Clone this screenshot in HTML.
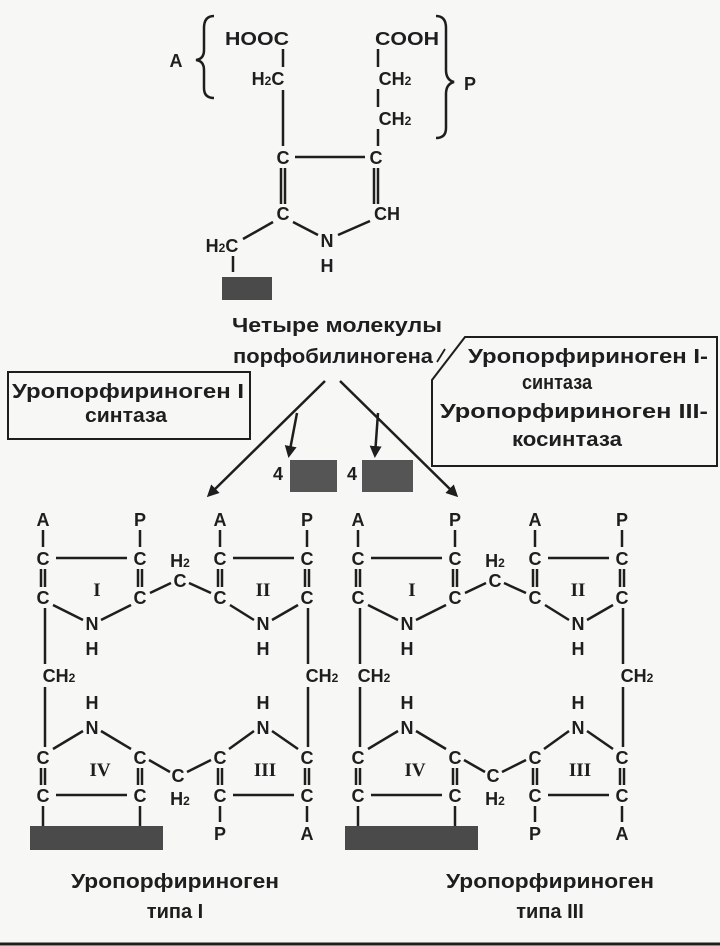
<!DOCTYPE html>
<html><head><meta charset="utf-8"><style>
html,body{margin:0;padding:0;background:#f7f7f5}
svg{display:block}
text{font-family:"Liberation Sans",sans-serif;font-weight:bold;fill:#1e1e1e}
.a{font-size:18px;text-anchor:middle}
.s{font-size:12px}
.r{font-family:"Liberation Serif",serif;font-size:19px;text-anchor:middle}
.t{font-size:20px}
line,path,polyline{stroke:#1e1e1e;stroke-width:2.5;fill:none}
</style></head><body>
<svg width="720" height="946" viewBox="0 0 720 946" xmlns="http://www.w3.org/2000/svg">
<defs>
<marker id="ah" markerWidth="12" markerHeight="12" refX="9" refY="6" orient="auto" markerUnits="userSpaceOnUse">
<path d="M0,0 L12,6 L0,12 z" style="fill:#1e1e1e;stroke:none"/>
</marker>
<g id="ring">
<text class="a" x="43" y="526">A</text><text class="a" x="140" y="526">P</text>
<text class="a" x="220" y="526">A</text><text class="a" x="307" y="526">P</text>
<text class="a" x="43" y="565">C</text><text class="a" x="140" y="565">C</text>
<text class="a" x="220" y="565">C</text><text class="a" x="307" y="565">C</text>
<text class="a" x="180" y="567">H<tspan class="s">2</tspan></text>
<text class="a" x="43" y="604">C</text><text class="a" x="140" y="604">C</text>
<text class="a" x="180" y="587">C</text><text class="a" x="220" y="604">C</text>
<text class="a" x="307" y="604">C</text>
<text class="r" x="97" y="596">I</text><text class="r" x="263" y="596">II</text>
<text class="a" x="92" y="630">N</text><text class="a" x="92" y="655">H</text>
<text class="a" x="263" y="630">N</text><text class="a" x="263" y="655">H</text>
<text class="a" x="59" y="682">CH<tspan class="s">2</tspan></text>
<text class="a" x="322" y="682">CH<tspan class="s">2</tspan></text>
<text class="a" x="92" y="709">H</text><text class="a" x="92" y="734">N</text>
<text class="a" x="263" y="709">H</text><text class="a" x="263" y="734">N</text>
<text class="a" x="43" y="764">C</text><text class="a" x="140" y="764">C</text>
<text class="a" x="178" y="782">C</text><text class="a" x="220" y="764">C</text>
<text class="a" x="307" y="764">C</text>
<text class="r" x="100" y="776">IV</text><text class="r" x="265" y="776">III</text>
<text class="a" x="43" y="802">C</text><text class="a" x="140" y="802">C</text>
<text class="a" x="220" y="802">C</text><text class="a" x="307" y="802">C</text>
<text class="a" x="180" y="805">H<tspan class="s">2</tspan></text>
<text class="a" x="220" y="840">P</text><text class="a" x="307" y="840">A</text>
<rect x="30" y="826" width="133" height="24" fill="#4a4a4a"/>
<line x1="43" y1="530" x2="43" y2="547"/><line x1="140" y1="530" x2="140" y2="547"/>
<line x1="220" y1="530" x2="220" y2="547"/><line x1="307" y1="530" x2="307" y2="547"/>
<line x1="56" y1="558" x2="127" y2="558"/><line x1="233" y1="558" x2="294" y2="558"/>
<line x1="41" y1="569" x2="41" y2="587"/><line x1="45" y1="569" x2="45" y2="587"/>
<line x1="138" y1="569" x2="138" y2="587"/><line x1="142" y1="569" x2="142" y2="587"/>
<line x1="218" y1="569" x2="218" y2="587"/><line x1="222" y1="569" x2="222" y2="587"/>
<line x1="305" y1="569" x2="305" y2="587"/><line x1="309" y1="569" x2="309" y2="587"/>
<line x1="53" y1="605" x2="83" y2="620"/><line x1="101" y1="620" x2="131" y2="605"/>
<line x1="150" y1="593" x2="171" y2="583"/><line x1="189" y1="583" x2="211" y2="593"/>
<line x1="230" y1="605" x2="254" y2="620"/><line x1="272" y1="620" x2="298" y2="605"/>
<line x1="45" y1="608" x2="45" y2="664"/><line x1="45" y1="687" x2="45" y2="747"/>
<line x1="308" y1="608" x2="308" y2="664"/><line x1="308" y1="687" x2="308" y2="747"/>
<line x1="83" y1="731" x2="53" y2="749"/><line x1="101" y1="731" x2="131" y2="749"/>
<line x1="149" y1="760" x2="170" y2="772"/><line x1="187" y1="772" x2="211" y2="760"/>
<line x1="229" y1="749" x2="254" y2="731"/><line x1="272" y1="731" x2="298" y2="749"/>
<line x1="41" y1="768" x2="41" y2="785"/><line x1="45" y1="768" x2="45" y2="785"/>
<line x1="138" y1="768" x2="138" y2="785"/><line x1="142" y1="768" x2="142" y2="785"/>
<line x1="218" y1="768" x2="218" y2="785"/><line x1="222" y1="768" x2="222" y2="785"/>
<line x1="305" y1="768" x2="305" y2="785"/><line x1="309" y1="768" x2="309" y2="785"/>
<line x1="56" y1="795" x2="127" y2="795"/><line x1="233" y1="795" x2="294" y2="795"/>
<line x1="43" y1="806" x2="43" y2="826"/><line x1="140" y1="806" x2="140" y2="826"/>
<line x1="220" y1="806" x2="220" y2="822"/><line x1="307" y1="806" x2="307" y2="822"/>
</g>
</defs>

<!-- top molecule -->
<text class="a" x="176" y="67">A</text>
<path d="M214,16 Q204,16 204,28 L204,50 Q204,59 196,60 Q204,61 204,70 L204,88 Q204,98 214,98"/>
<text class="a" x="257" y="45" textLength="64" lengthAdjust="spacingAndGlyphs">HOOC</text>
<text class="a" x="407" y="45" textLength="64" lengthAdjust="spacingAndGlyphs">COOH</text>
<text class="a" x="268" y="85">H<tspan class="s">2</tspan>C</text>
<text class="a" x="395" y="85">CH<tspan class="s">2</tspan></text>
<text class="a" x="395" y="125">CH<tspan class="s">2</tspan></text>
<path d="M436,16 Q446,16 446,28 L446,70 Q446,80 454,82 Q446,84 446,94 L446,128 Q446,138 436,138"/>
<text class="a" x="470" y="90">P</text>
<text class="a" x="283" y="164">C</text>
<text class="a" x="376" y="164">C</text>
<text class="a" x="283" y="220">C</text>
<text class="a" x="387" y="220">CH</text>
<text class="a" x="327" y="247">N</text>
<text class="a" x="327" y="272">H</text>
<text class="a" x="222" y="252">H<tspan class="s">2</tspan>C</text>
<line x1="283" y1="49" x2="283" y2="67"/>
<line x1="283" y1="90" x2="283" y2="146"/>
<line x1="295" y1="157" x2="365" y2="157"/>
<line x1="281" y1="168" x2="281" y2="204"/><line x1="285" y1="168" x2="285" y2="204"/>
<line x1="374" y1="168" x2="374" y2="204"/><line x1="378" y1="168" x2="378" y2="204"/>
<line x1="378" y1="49" x2="378" y2="67"/>
<line x1="378" y1="89" x2="378" y2="107"/>
<line x1="378" y1="129" x2="378" y2="146"/>
<line x1="293" y1="222" x2="318" y2="235"/>
<line x1="338" y1="235" x2="370" y2="221"/>
<line x1="273" y1="222" x2="243" y2="239"/>
<line x1="233" y1="256" x2="233" y2="272"/>
<rect x="222" y="277" width="50" height="23" fill="#4a4a4a"/>

<!-- middle text -->
<text class="t" x="337" y="332" text-anchor="middle" textLength="210" lengthAdjust="spacingAndGlyphs">Четыре молекулы</text>
<text class="t" x="333" y="363" text-anchor="middle" textLength="200" lengthAdjust="spacingAndGlyphs">порфобилиногена</text>
<line x1="437" y1="362" x2="445" y2="349" style="stroke-width:1.8"/>

<rect x="8" y="372" width="242" height="67" style="fill:none;stroke:#1e1e1e;stroke-width:2"/>
<text class="t" x="12" y="398" textLength="232" lengthAdjust="spacingAndGlyphs">Уропорфириноген I</text>
<text class="t" x="126" y="422" text-anchor="middle" textLength="82" lengthAdjust="spacingAndGlyphs">синтаза</text>

<path d="M465,337 L717,337 L717,466 L432,466 L432,380 Z" style="stroke-width:2"/>
<text class="t" x="468" y="363" textLength="240" lengthAdjust="spacingAndGlyphs">Уропорфириноген I-</text>
<text class="t" x="557" y="389" text-anchor="middle" textLength="70" lengthAdjust="spacingAndGlyphs">синтаза</text>
<text class="t" x="440" y="418" textLength="268" lengthAdjust="spacingAndGlyphs">Уропорфириноген III-</text>
<text class="t" x="567" y="446" text-anchor="middle" textLength="110" lengthAdjust="spacingAndGlyphs">косинтаза</text>

<line x1="325" y1="381" x2="209" y2="495" marker-end="url(#ah)"/>
<line x1="340" y1="381" x2="456" y2="495" marker-end="url(#ah)"/>
<line x1="297" y1="413" x2="289" y2="455" marker-end="url(#ah)"/>
<line x1="378" y1="413" x2="375" y2="455" marker-end="url(#ah)"/>
<text class="a" x="278" y="480">4</text>
<rect x="290" y="460" width="47" height="32" fill="#555"/>
<text class="a" x="352" y="480">4</text>
<rect x="362" y="460" width="51" height="32" fill="#555"/>

<use href="#ring"/>
<use href="#ring" transform="translate(315,0)"/>

<text class="t" x="175" y="888" text-anchor="middle" textLength="208" lengthAdjust="spacingAndGlyphs">Уропорфириноген</text>
<text class="t" x="175" y="918" text-anchor="middle">типа I</text>
<text class="t" x="550" y="888" text-anchor="middle" textLength="208" lengthAdjust="spacingAndGlyphs">Уропорфириноген</text>
<text class="t" x="550" y="918" text-anchor="middle">типа III</text>
<line x1="0" y1="944" x2="720" y2="944" style="stroke-width:3"/>
</svg>
</body></html>
